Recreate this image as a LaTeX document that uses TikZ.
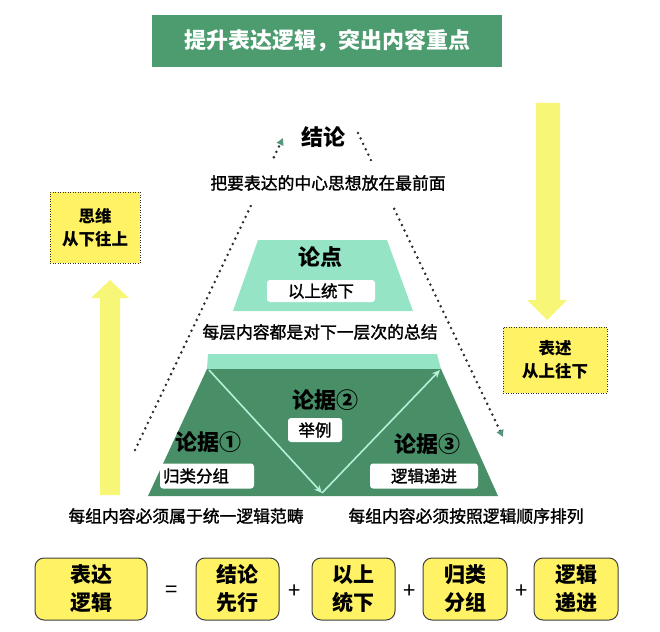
\documentclass[tikz,border=0pt]{standalone}
\usepackage{fontspec}
\setmainfont{Noto Sans CJK SC}
\newfontfamily\midfont{Noto Sans CJK SC}[FakeBold=1.5]
\usetikzlibrary{arrows.meta}
\definecolor{headgreen}{RGB}{76,156,112}
\definecolor{darkgreen}{RGB}{72,143,104}
\definecolor{mintcol}{RGB}{150,228,198}
\definecolor{mintline}{RGB}{182,240,216}
\definecolor{boxyellow}{RGB}{255,242,100}
\definecolor{arrowyellow}{RGB}{248,246,118}
\definecolor{dotcol}{RGB}{45,45,45}
\definecolor{tipcol}{RGB}{86,150,122}

\begin{document}
\begin{tikzpicture}[x=1pt, y=-1pt,
    tag/.style={fill=white, rounded corners=3pt, inner sep=0pt, font=\fontsize{16.5}{18}\midfont},
    level/.style={font=\fontsize{22}{24}\selectfont\bfseries},
    note/.style={fill=white, inner sep=0pt, font=\fontsize{16.8}{18}\midfont},
    sidebox/.style={fill=boxyellow, draw=dotcol, dash pattern=on 1pt off 1.5pt, line width=1pt, align=center, font=\fontsize{16.5}{23}\selectfont\bfseries},
    sumbox/.style={fill=boxyellow, draw=black!75, rounded corners=9pt, line width=1pt, minimum height=62pt, align=center, font=\fontsize{21}{28}\selectfont\bfseries},
    sign/.style={font=\fontsize{22}{24}\selectfont}
]
\useasboundingbox (0,0) rectangle (660,631);

% title bar
\node[fill=headgreen, minimum width=350pt, minimum height=52pt, text=white, font=\fontsize{22}{24}\selectfont\bfseries] (title) at (327,41) {提升表达逻辑，突出内容重点};

% dotted loop round the pyramid
\coordinate (upstart) at (135,450);
\coordinate (upend) at (283,138);
\coordinate (downstart) at (358,133);
\coordinate (downend) at (503,437);
\draw[dotcol, line width=2.8pt, line cap=round, dash pattern=on 0pt off 6pt, -{Triangle[length=7pt,width=7pt,color=tipcol]}] (upstart) -- (upend);
\draw[dotcol, line width=2.8pt, line cap=round, dash pattern=on 0pt off 6pt, -{Triangle[length=7pt,width=7pt,color=tipcol]}] (downstart) -- (downend);

% the two layers
\fill[mintcol] (258,240) -- (387,240) -- (413,311) -- (233,311) -- cycle;
\fill[mintcol] (208,354) -- (437,354) -- (441,369) -- (207,369) -- cycle;
\fill[darkgreen] (207,369) -- (441,369) -- (498,496) -- (148,496) -- cycle;

\coordinate (vleft) at (209,370);
\coordinate (vbottom) at (322,493);
\coordinate (vright) at (440,370);
\draw[mintline, line width=1.6pt, -{Stealth[length=8pt,width=7pt]}] (vleft) -- (vbottom);
\draw[mintline, line width=1.6pt, -{Stealth[length=8pt,width=7pt]}] (vbottom) -- (vright);

\node[level] (concl) at (323,137) {结论};
\node[note, minimum height=44pt] (conclnote) at (328,183) {把要表达的中心思想放在最前面};

\node[level] (point) at (320,257) {论点};
\node[tag, minimum width=108pt, minimum height=22pt] (pointtag) at (321,291) {以上统下};
\node[note, minimum height=40pt] (pointnote) at (320,332) {每层内容都是对下一层次的总结};

\node[level] (arg2) at (325,400) {论据②};
\node[tag, minimum width=54pt, minimum height=24pt] (arg2tag) at (315,430) {举例};
\node[level] (arg1) at (208,442) {论据①};
\node[tag, inner xsep=3pt, text width=88pt, align=left, minimum height=25pt] (arg1tag) at (207,476) {归类分组};
\node[level] (arg3) at (427,444) {论据③};
\node[tag, minimum width=108pt, minimum height=25pt] (arg3tag) at (424,476) {逻辑递进};

\node[note] (rulegroup) at (186,516) {每组内容必须属于统一逻辑范畴};
\node[note] (ruleorder) at (466,516) {每组内容必须按照逻辑顺序排列};

% side notes and big arrows
\node[sidebox, minimum width=90pt, minimum height=71pt] (think) at (95,227.5) {思维\\从下往上};
\node[sidebox, minimum width=104pt, minimum height=66pt] (tell) at (555,360) {表述\\从上往下};
\fill[arrowyellow] (100,495) -- (100,298) -- (91,298) -- (110,280) -- (129,298) -- (120,298) -- (120,495) -- cycle;
\fill[arrowyellow] (536,103) -- (560,103) -- (560,300) -- (567,300) -- (547,320) -- (527,300) -- (536,300) -- cycle;

% the sum row
\node[sumbox, minimum width=112pt] (sum) at (91,589) {表达\\逻辑};
\node[sign] (eq) at (172,592) {=};
\node[sumbox, minimum width=83pt] (first) at (237.5,589) {结论\\先行};
\node[sign] (plusa) at (295,592) {+};
\node[sumbox, minimum width=83pt] (top) at (353.5,589) {以上\\统下};
\node[sign] (plusb) at (410,592) {+};
\node[sumbox, minimum width=84pt] (group) at (465,589) {归类\\分组};
\node[sign] (plusc) at (522,592) {+};
\node[sumbox, minimum width=84pt] (order) at (576,589) {逻辑\\递进};

\end{tikzpicture}
\end{document}
